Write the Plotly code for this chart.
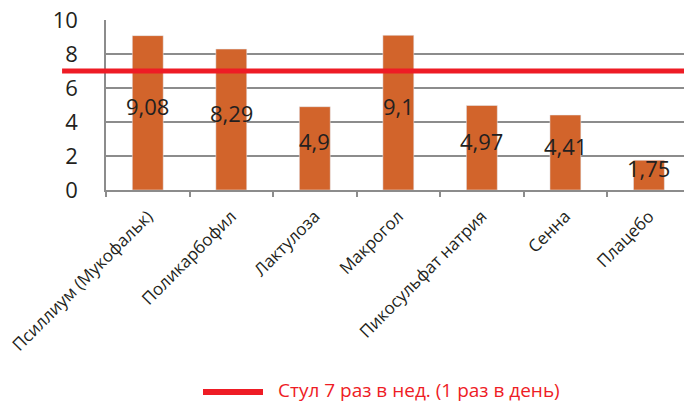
import plotly.graph_objects as go

categories = ["Псиллиум (Мукофальк)", "Поликарбофил", "Лактулоза", "Макрогол",
              "Пикосульфат натрия", "Сенна", "Плацебо"]
values = [9.08, 8.29, 4.9, 9.1, 4.97, 4.41, 1.75]
threshold = 7
legend_label = "Стул 7 раз в нед. (1 раз в день)"
y_ticks = [0, 2, 4, 6, 8, 10]

FONT = "Open Sans"
DARK = "#231f20"
BAR = "#d2642b"
RED = "#ee1c25"
GRID = "#8c8c8c"

fig = go.Figure()
fig.add_trace(go.Bar(x=categories, y=values, marker_color=BAR, width=0.37,
                     showlegend=False, hoverinfo="skip"))

for c, v in zip(categories, values):
    fig.add_annotation(x=c, y=v / 2, text=f"{v:g}".replace(".", ","), showarrow=False,
                       yshift=7, font=dict(family=FONT, size=22, color=DARK))

# threshold line (extends left under the tick labels)
fig.add_shape(type="line", xref="paper", yref="y", x0=-0.076, x1=1, y0=threshold, y1=threshold,
              line=dict(color=RED, width=5), layer="above")

# manual legend
fig.add_shape(type="line", xref="paper", yref="paper", x0=(203 - 106) / 578, x1=(263 - 106) / 578,
              y0=-(392 - 190) / 170, y1=-(392 - 190) / 170, line=dict(color=RED, width=6))
fig.add_annotation(xref="paper", yref="paper", x=(276 - 106) / 578, y=-(390 - 190) / 170,
                   xanchor="left", yanchor="middle", text=legend_label, showarrow=False,
                   font=dict(family=FONT, size=19, color=RED))

fig.update_layout(
    width=684, height=402,
    margin=dict(l=106, r=0, t=20, b=212),
    plot_bgcolor="white", paper_bgcolor="white",
    font=dict(family=FONT, color=DARK),
    bargap=0.63,
    showlegend=False,
)
fig.update_xaxes(
    type="category", categoryorder="array", categoryarray=categories,
    range=[-0.5, 6.42], tickson="boundaries", ticks="outside", ticklen=5, tickwidth=1.5,
    tickcolor=GRID, showline=True, linecolor=GRID, linewidth=1.5, showgrid=False,
    tickangle=-45, ticklabelstandoff=8, tickfont=dict(family=FONT, size=17, color=DARK),
)
fig.update_yaxes(
    range=[0, 10], tickvals=y_ticks, showgrid=True, gridcolor=GRID, gridwidth=1.5,
    showline=True, linecolor=GRID, linewidth=1.5, ticks="", ticklabelstandoff=22,
    tickfont=dict(family=FONT, size=22, color=DARK), zeroline=False,
)

fig.write_html("out.html")
